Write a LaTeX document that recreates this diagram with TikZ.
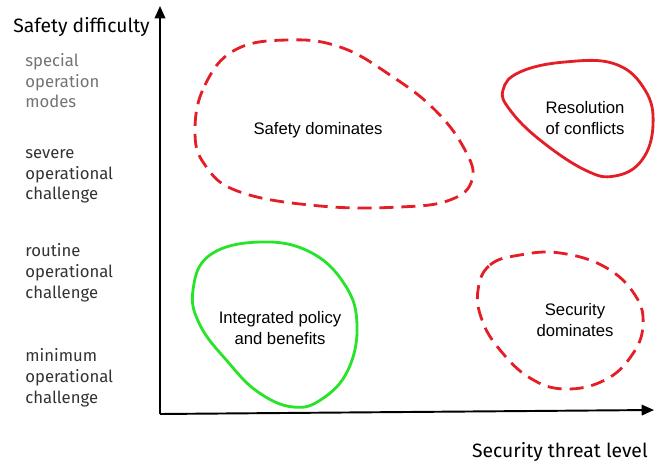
\documentclass[tikz,border=0pt]{standalone}
\usepackage{fontspec}
\setmainfont{Liberation Sans}
\newfontfamily\axisfont{Fira Sans}
\usetikzlibrary{arrows.meta}

\definecolor{zonered}{RGB}{228,30,38}
\definecolor{zonegreen}{RGB}{40,228,40}

\begin{document}
\begin{tikzpicture}[x=0.02cm,y=-0.02cm,
	zone/.style={line width=1.6pt,smooth cycle,tension=0.7},
	dzone/.style={zone,dash pattern=on 8pt off 4.5pt},
	lvl/.style={anchor=base west,align=left,inner sep=0pt,text=black!80,
		font=\axisfont\fontsize{9.5}{11.8}\selectfont},
	zonetext/.style={align=center,font=\fontsize{9.5}{12}\selectfont}]
	
	\useasboundingbox (0,0) rectangle (662,462);
	
	% axes
	\coordinate (origin) at (160,414);
	\coordinate (ytip) at (160,6);
	\coordinate (xtip) at (654,410);
	\draw[line width=1.1pt,-{Triangle[length=7pt,width=6pt]}] (origin) -- (ytip);
	\draw[line width=1.1pt,-{Triangle[length=7pt,width=6pt]}] (origin) -- (xtip);
	\node[anchor=base west,inner sep=0pt,font=\axisfont\fontsize{11}{13}\selectfont] (ylabel) at (13,33) {Safety difficulty};
	\node[anchor=base east,inner sep=0pt,font=\axisfont\fontsize{11}{13}\selectfont] (xlabel) at (648,457) {Security threat level};
	
	% levels (base = last line)
	\node[lvl,text=black!55] (special) at (25,108) {special\\operation\\modes};
	\node[lvl] (severe) at (25,200) {severe\\operational\\challenge};
	\node[lvl] (routine) at (25,298) {routine\\operational\\challenge};
	\node[lvl] (minimum) at (25,403) {minimum\\operational\\challenge};
	
	% zones
	\draw[dzone,zonered] plot coordinates {(195,130) (205,85) (235,50) (287,40) (340,47) (390,75) (435,110) (465,150) (472,180) (450,200) (400,207) (320,206) (240,192) (205,165)};
	\node[zonetext] (safety) at (318,130) {Safety dominates};
	
	\draw[zone,zonered] plot coordinates {(503,90) (520,72) (565,62) (615,64) (645,90) (653,125) (642,160) (615,176) (585,170) (540,140) (510,110)};
	\node[zonetext] (conflicts) at (585,118) {Resolution\\of conflicts};
	
	\draw[zone,zonegreen] plot coordinates {(193,290) (210,255) (260,242) (310,252) (345,285) (357,325) (348,370) (322,399) (293,407) (258,392) (228,362) (200,325)};
	\node[zonetext] (integrated) at (280,328) {Integrated policy\\and benefits};
	
	\draw[dzone,zonered] plot coordinates {(478,290) (490,265) (520,255) (560,253) (605,267) (635,295) (643,325) (632,355) (605,380) (565,389) (530,378) (500,350) (482,320)};
	\node[zonetext] (security) at (575,320) {Security\\dominates};
	
\end{tikzpicture}
\end{document}
